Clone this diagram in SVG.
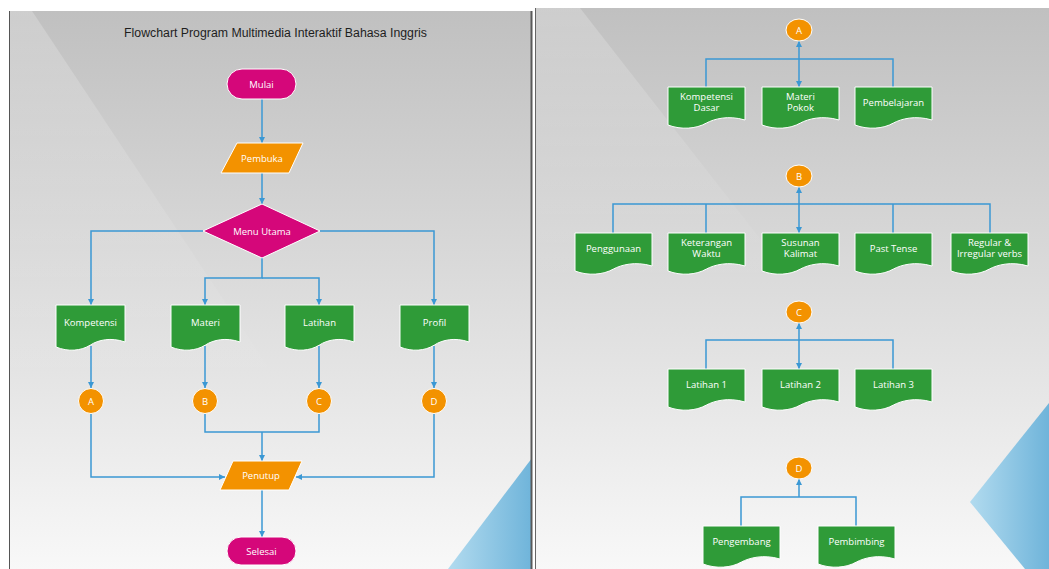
<svg xmlns="http://www.w3.org/2000/svg" xmlns:xlink="http://www.w3.org/1999/xlink" width="1049" height="569" viewBox="0 0 1049 569">
<defs>
<linearGradient id="pageG" x1="0" y1="0" x2="0" y2="1">
<stop offset="0" stop-color="#c0c0c0"/>
<stop offset="0.45" stop-color="#d9d9d9"/>
<stop offset="1" stop-color="#f8f8f8"/>
</linearGradient>
<linearGradient id="blueG" x1="0" y1="0" x2="1" y2="0">
<stop offset="0" stop-color="#b2dbef"/>
<stop offset="1" stop-color="#6fb4da"/>
</linearGradient>
<linearGradient id="lightG" x1="0" y1="0" x2="0" y2="1">
<stop offset="0" stop-color="#ffffff" stop-opacity="0.22"/>
<stop offset="1" stop-color="#ffffff" stop-opacity="0"/>
</linearGradient>
<marker id="arr" viewBox="0 0 6 6" refX="6" refY="3" markerWidth="6" markerHeight="6" markerUnits="userSpaceOnUse" orient="auto-start-reverse">
<path d="M0,0 L6,3 L0,6 Z" fill="#3b98d4"/>
</marker>
<path id="docL" d="M0,0 H69 V37 C55,32 42,35 34.5,40 C25,46 12,47 0,42 Z"/>
<path id="docR" d="M0,0 H77 V33 C60,28 46,32 38.5,36 C28,42 13,43 0,38 Z"/>
</defs>
<style>
.conn{fill:none;stroke:#3b98d4;stroke-width:1.5}
.arr{marker-end:url(#arr)}
.bi{marker-start:url(#arr);marker-end:url(#arr)}
.doc{fill:#2f9b38;stroke:#ffffff;stroke-width:1}
.term{fill:#d5077a;stroke:#ffffff;stroke-width:1}
.io{fill:#f39200;stroke:#ffffff;stroke-width:1}
.conc{fill:#f39200;stroke:#ffffff;stroke-width:1}
.lt{font-family:"Open Sans","Liberation Sans",sans-serif;font-size:9.5px;fill:#ffffff;text-anchor:middle}
.rt{font-family:"Open Sans","Liberation Sans",sans-serif;font-size:9.5px;fill:#ffffff;text-anchor:middle}
.title{font-family:"Liberation Sans",sans-serif;font-size:12.3px;fill:#1e1e1e;text-anchor:middle}
</style>

<!-- backgrounds -->
<g id="background">
<rect x="0" y="0" width="1049" height="569" fill="#ffffff"/>
<rect x="9" y="11" width="523" height="558" fill="url(#pageG)"/>
<polygon points="9,11 32,11 290,400 9,400" fill="url(#lightG)"/>
<polygon points="532,458 532,569 448,569" fill="url(#blueG)"/>
<line x1="9.5" y1="11" x2="9.5" y2="569" stroke="#555555" stroke-width="1"/>
<line x1="531.5" y1="11" x2="531.5" y2="569" stroke="#5a5a5a" stroke-width="2"/>
<rect x="535" y="8" width="514" height="561" fill="url(#pageG)"/>
<polygon points="535,8 580,8 800,290 535,290" fill="url(#lightG)"/>
<polygon points="1049,403 970,502 1025,569 1049,569" fill="url(#blueG)"/>
<line x1="535.5" y1="8" x2="535.5" y2="569" stroke="#666666" stroke-width="1"/>
</g>

<text id="title" class="title" x="275.5" y="37">Flowchart Program Multimedia Interaktif Bahasa Inggris</text>

<!-- connectors -->
<g id="connectors">
<path class="conn arr" d="M262,99 V143"/>
<path class="conn arr" d="M262,173 V204"/>
<path class="conn arr" d="M203,231 H91 V305"/>
<path class="conn arr" d="M320,231 H434 V305"/>
<path class="conn arr" d="M262,258 V278 H205 V305"/>
<path class="conn arr" d="M262,278 H319 V305"/>
<path class="conn arr" d="M91,346 V388"/>
<path class="conn arr" d="M205,346 V388"/>
<path class="conn arr" d="M319,346 V388"/>
<path class="conn arr" d="M434,346 V388"/>
<path class="conn arr" d="M91,414 V477 H225"/>
<path class="conn arr" d="M434,414 V477 H296"/>
<path class="conn" d="M205,414 V432 H319 V414"/>
<path class="conn arr" d="M262,432 V461"/>
<path class="conn arr" d="M262,490 V537"/>

<path class="conn bi" d="M799,41 V87"/>
<path class="conn" d="M706,87 V59 H893 V87"/>
<path class="conn bi" d="M799,187 V233"/>
<path class="conn" d="M613,233 V204 H990 V233"/>
<path class="conn" d="M706,204 V233"/>
<path class="conn" d="M893,204 V233"/>
<path class="conn bi" d="M799,323 V369"/>
<path class="conn" d="M706,369 V340 H893 V369"/>
<path class="conn" d="M741,526 V497 H856 V526"/>
<path class="conn arr" d="M799,497 V479"/>
</g>

<!-- left page nodes -->
<g id="mulai"><rect class="term" x="227" y="69" width="69" height="30" rx="15"/><text class="lt" x="261.5" y="87.5">Mulai</text></g>
<g id="pembuka"><polygon class="io" points="237,143 303,143 289,173 221,173"/><text class="lt" x="262" y="161.5">Pembuka</text></g>
<g id="menu-utama"><polygon points="262,204 320,231 262,258 203,231" fill="#d5077a" stroke="#ffffff" stroke-width="1"/><text class="lt" x="262" y="234.5">Menu Utama</text></g>
<g id="kompetensi"><use href="#docL" class="doc" x="56" y="305"/><text class="lt" x="90.5" y="325.5">Kompetensi</text></g>
<g id="materi"><use href="#docL" class="doc" x="171" y="305"/><text class="lt" x="205.5" y="325.5">Materi</text></g>
<g id="latihan"><use href="#docL" class="doc" x="285" y="305"/><text class="lt" x="319.5" y="325.5">Latihan</text></g>
<g id="profil"><use href="#docL" class="doc" x="400" y="305"/><text class="lt" x="434.5" y="325.5">Profil</text></g>
<g id="conA"><circle class="conc" cx="91" cy="401" r="12.5"/><text class="lt" x="91" y="404.5">A</text></g>
<g id="conB"><circle class="conc" cx="205" cy="401" r="12.5"/><text class="lt" x="205" y="404.5">B</text></g>
<g id="conC"><circle class="conc" cx="319" cy="401" r="12.5"/><text class="lt" x="319" y="404.5">C</text></g>
<g id="conD"><circle class="conc" cx="434" cy="401" r="12.5"/><text class="lt" x="434" y="404.5">D</text></g>
<g id="penutup"><polygon class="io" points="233,461 302,461 289,490 220,490"/><text class="lt" x="261" y="479">Penutup</text></g>
<g id="selesai"><rect class="term" x="227" y="537" width="69" height="28" rx="14"/><text class="lt" x="261.5" y="554.5">Selesai</text></g>

<!-- right page nodes -->
<g id="rA"><ellipse class="conc" cx="799" cy="30" rx="13" ry="11"/><text class="rt" x="799" y="33.5">A</text></g>
<g id="kompetensi-dasar"><use href="#docR" class="doc" x="668" y="87"/><text class="rt" x="706.5" y="100">Kompetensi</text><text class="rt" x="706.5" y="111">Dasar</text></g>
<g id="materi-pokok"><use href="#docR" class="doc" x="762" y="87"/><text class="rt" x="800.5" y="100">Materi</text><text class="rt" x="800.5" y="111">Pokok</text></g>
<g id="pembelajaran"><use href="#docR" class="doc" x="855" y="87"/><text class="rt" x="893.5" y="105.5">Pembelajaran</text></g>

<g id="rB"><ellipse class="conc" cx="799" cy="176" rx="13" ry="11"/><text class="rt" x="799" y="179.5">B</text></g>
<g id="penggunaan"><use href="#docR" class="doc" x="575" y="233"/><text class="rt" x="613.5" y="252">Penggunaan</text></g>
<g id="keterangan-waktu"><use href="#docR" class="doc" x="668" y="233"/><text class="rt" x="706.5" y="246">Keterangan</text><text class="rt" x="706.5" y="257">Waktu</text></g>
<g id="susunan-kalimat"><use href="#docR" class="doc" x="762" y="233"/><text class="rt" x="800.5" y="246">Susunan</text><text class="rt" x="800.5" y="257">Kalimat</text></g>
<g id="past-tense"><use href="#docR" class="doc" x="855" y="233"/><text class="rt" x="893.5" y="252">Past Tense</text></g>
<g id="regular-verbs"><use href="#docR" class="doc" x="951" y="233"/><text class="rt" x="989.5" y="246">Regular &amp;</text><text class="rt" x="989.5" y="257">Irregular verbs</text></g>

<g id="rC"><ellipse class="conc" cx="799" cy="312" rx="13" ry="11"/><text class="rt" x="799" y="315.5">C</text></g>
<g id="latihan-1"><use href="#docR" class="doc" x="668" y="369"/><text class="rt" x="706.5" y="387.5">Latihan 1</text></g>
<g id="latihan-2"><use href="#docR" class="doc" x="762" y="369"/><text class="rt" x="800.5" y="387.5">Latihan 2</text></g>
<g id="latihan-3"><use href="#docR" class="doc" x="855" y="369"/><text class="rt" x="893.5" y="387.5">Latihan 3</text></g>

<g id="rD"><ellipse class="conc" cx="799" cy="468" rx="13" ry="11"/><text class="rt" x="799" y="471.5">D</text></g>
<g id="pengembang"><use href="#docR" class="doc" x="703" y="526"/><text class="rt" x="741.5" y="544.5">Pengembang</text></g>
<g id="pembimbing"><use href="#docR" class="doc" x="818" y="526"/><text class="rt" x="856.5" y="544.5">Pembimbing</text></g>
</svg>
